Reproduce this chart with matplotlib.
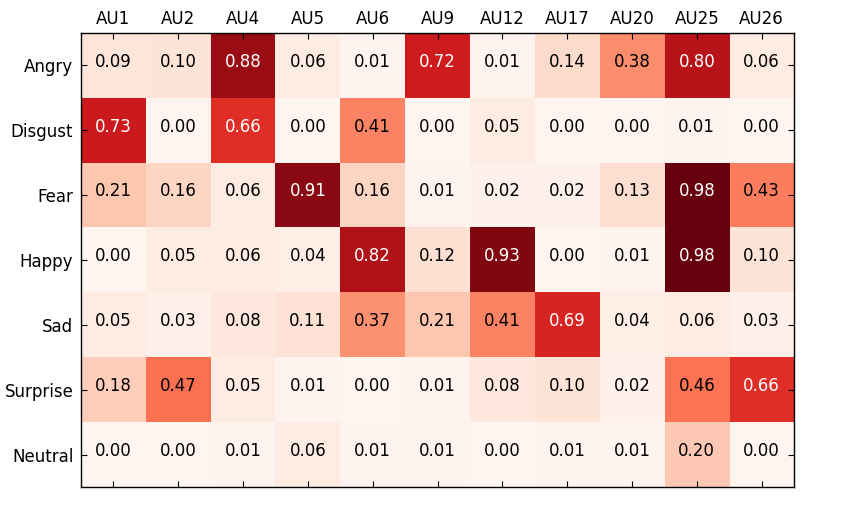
import numpy as np
import matplotlib
matplotlib.use("Agg")
import matplotlib.pyplot as plt

# emotions (rows) vs action units (columns)
emotions = ["Angry", "Disgust", "Fear", "Happy", "Sad", "Surprise", "Neutral"]
action_units = ["AU1", "AU2", "AU4", "AU5", "AU6", "AU9", "AU12", "AU17", "AU20", "AU25", "AU26"]

angry    = [0.09, 0.10, 0.88, 0.06, 0.01, 0.72, 0.01, 0.14, 0.38, 0.80, 0.06]
disgust  = [0.73, 0.00, 0.66, 0.00, 0.41, 0.00, 0.05, 0.00, 0.00, 0.01, 0.00]
fear     = [0.21, 0.16, 0.06, 0.91, 0.16, 0.01, 0.02, 0.02, 0.13, 0.98, 0.43]
happy    = [0.00, 0.05, 0.06, 0.04, 0.82, 0.12, 0.93, 0.00, 0.01, 0.98, 0.10]
sad      = [0.05, 0.03, 0.08, 0.11, 0.37, 0.21, 0.41, 0.69, 0.04, 0.06, 0.03]
surprise = [0.18, 0.47, 0.05, 0.01, 0.00, 0.01, 0.08, 0.10, 0.02, 0.46, 0.66]
neutral  = [0.00, 0.00, 0.01, 0.06, 0.01, 0.01, 0.00, 0.01, 0.01, 0.20, 0.00]

cm = np.array([angry, disgust, fear, happy, sad, surprise, neutral])

fig = plt.figure(figsize=(8.63, 5.05), dpi=100)
ax = fig.add_axes([81 / 863, 18 / 505, 713 / 863, 454 / 505])
ax.imshow(cm, interpolation="nearest", cmap=plt.cm.Reds, aspect="auto")

thresh = cm.max() / 2.
for i in range(cm.shape[0]):
    for j in range(cm.shape[1]):
        ax.text(j, i + 0.02, "%.2f" % cm[i, j], ha="center", fontsize=12,
                color="white" if cm[i, j] > thresh else "black")

ax.set_xticks(np.arange(len(action_units)))
ax.set_xticklabels(action_units)
ax.set_yticks(np.arange(len(emotions)))
ax.set_yticklabels(emotions)
ax.tick_params(direction="in", top=True, bottom=True, left=True, right=True,
               labeltop=True, labelbottom=False, labelsize=12, length=4)
ax.tick_params(axis="y", pad=5.5)
for s in ax.spines.values():
    s.set_linewidth(1)

fig.savefig("out.png", dpi=100)
